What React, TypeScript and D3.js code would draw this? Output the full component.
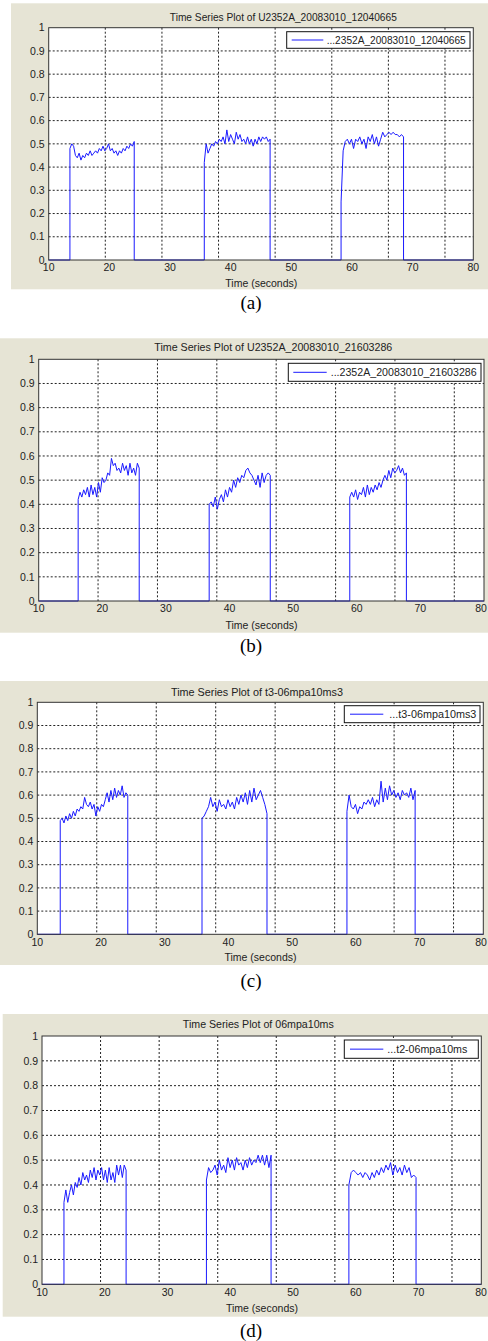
import React from 'react'
import * as d3 from 'd3'

// axis values
const xTickLabels = [10, 20, 30, 40, 50, 60, 70, 80]
const yTicks = [0, 0.1, 0.2, 0.3, 0.4, 0.5, 0.6, 0.7, 0.8, 0.9, 1]
const yTickLabels = ['0', '0.1', '0.2', '0.3', '0.4', '0.5', '0.6', '0.7', '0.8', '0.9', '1']
// the vertical grid does not sit on the labelled ticks in the source figure
const gridTimes = [19.33, 28.67, 38, 47.33, 56.67, 66, 75.33]

const titles = [
  'Time Series Plot of U2352A_20083010_12040665',
  'Time Series Plot of U2352A_20083010_21603286',
  'Time Series Plot of t3-06mpa10ms3',
  'Time Series Plot of 06mpa10ms'
]
const legendLabels = [
  '...2352A_20083010_12040665',
  '...2352A_20083010_21603286',
  '...t3-06mpa10ms3',
  '...t2-06mpa10ms'
]
const captions = ['(a)', '(b)', '(c)', '(d)']

// pulse start / end times (s) and sampled values
const pulseTimesA = [[13.5, 24.1], [35.65, 46.5], [58.2, 68.5]]
const pulseA1 = [0.48, 0.50, 0.49, 0.45, 0.44, 0.46, 0.43, 0.45, 0.44, 0.46, 0.45, 0.47, 0.45, 0.46, 0.47, 0.46, 0.48, 0.47, 0.49, 0.47, 0.48, 0.50, 0.47, 0.48, 0.46, 0.47, 0.45, 0.47, 0.46, 0.48, 0.47, 0.49, 0.48, 0.50, 0.49, 0.51]
const pulseA2 = [0.42, 0.50, 0.46, 0.48, 0.50, 0.49, 0.51, 0.50, 0.52, 0.51, 0.53, 0.50, 0.56, 0.51, 0.54, 0.52, 0.50, 0.55, 0.52, 0.54, 0.51, 0.52, 0.50, 0.53, 0.50, 0.52, 0.49, 0.52, 0.50, 0.53, 0.51, 0.53, 0.52, 0.53, 0.51, 0.52]
const pulseA3 = [0.25, 0.47, 0.51, 0.52, 0.50, 0.52, 0.48, 0.52, 0.51, 0.53, 0.50, 0.52, 0.48, 0.53, 0.51, 0.54, 0.50, 0.53, 0.49, 0.52, 0.55, 0.53, 0.54, 0.55, 0.54, 0.55, 0.54, 0.54, 0.53, 0.54, 0.53]

const pulseTimesB = [[16.2, 25.8], [36.8, 46.4], [58.9, 67.8]]
const pulseB1 = [0.42, 0.45, 0.43, 0.46, 0.44, 0.47, 0.43, 0.48, 0.44, 0.47, 0.43, 0.49, 0.45, 0.51, 0.49, 0.50, 0.53, 0.52, 0.59, 0.56, 0.57, 0.54, 0.55, 0.53, 0.57, 0.54, 0.56, 0.52, 0.57, 0.53, 0.55, 0.52, 0.57, 0.55]
const pulseB2 = [0.40, 0.41, 0.39, 0.43, 0.38, 0.42, 0.44, 0.41, 0.46, 0.43, 0.47, 0.45, 0.50, 0.47, 0.51, 0.49, 0.52, 0.51, 0.54, 0.55, 0.53, 0.52, 0.50, 0.48, 0.52, 0.47, 0.53, 0.49, 0.52, 0.53, 0.52]
const pulseB3 = [0.43, 0.45, 0.43, 0.46, 0.42, 0.45, 0.44, 0.47, 0.43, 0.48, 0.44, 0.47, 0.45, 0.48, 0.46, 0.49, 0.47, 0.50, 0.52, 0.50, 0.54, 0.51, 0.55, 0.53, 0.54, 0.56, 0.53, 0.55, 0.52, 0.53]

const pulseTimesC = [[13.6, 24.2], [35.85, 46.05], [58.6, 69.3]]
const pulseC1 = [0.49, 0.50, 0.48, 0.51, 0.49, 0.52, 0.50, 0.53, 0.51, 0.54, 0.53, 0.55, 0.54, 0.59, 0.56, 0.55, 0.57, 0.54, 0.56, 0.51, 0.55, 0.53, 0.56, 0.55, 0.58, 0.61, 0.57, 0.62, 0.58, 0.63, 0.59, 0.62, 0.60, 0.64, 0.59, 0.61, 0.60]
const pulseC2 = [0.50, 0.51, 0.53, 0.55, 0.59, 0.55, 0.57, 0.53, 0.58, 0.55, 0.56, 0.54, 0.58, 0.55, 0.57, 0.54, 0.59, 0.56, 0.60, 0.57, 0.61, 0.56, 0.62, 0.57, 0.63, 0.58, 0.60, 0.62, 0.59, 0.56, 0.52]
const pulseC3 = [0.53, 0.60, 0.55, 0.54, 0.56, 0.52, 0.55, 0.54, 0.57, 0.56, 0.58, 0.56, 0.59, 0.55, 0.58, 0.56, 0.66, 0.57, 0.63, 0.58, 0.64, 0.60, 0.62, 0.59, 0.61, 0.58, 0.62, 0.60, 0.61, 0.59, 0.63, 0.58, 0.62]

const pulseTimesD = [[13.5, 23.4], [36.2, 46.5], [58.9, 69.6]]
const pulseD1 = [0.33, 0.38, 0.33, 0.37, 0.40, 0.36, 0.41, 0.39, 0.43, 0.40, 0.45, 0.42, 0.44, 0.41, 0.46, 0.43, 0.47, 0.42, 0.46, 0.44, 0.47, 0.42, 0.46, 0.41, 0.47, 0.42, 0.45, 0.41, 0.48, 0.44, 0.48, 0.43, 0.48, 0.46]
const pulseD2 = [0.42, 0.47, 0.45, 0.46, 0.48, 0.44, 0.50, 0.46, 0.48, 0.45, 0.51, 0.47, 0.50, 0.46, 0.51, 0.48, 0.49, 0.46, 0.50, 0.47, 0.51, 0.48, 0.50, 0.49, 0.52, 0.49, 0.52, 0.48, 0.52, 0.47, 0.52]
const pulseD3 = [0.40, 0.45, 0.46, 0.45, 0.44, 0.45, 0.43, 0.45, 0.44, 0.42, 0.45, 0.43, 0.46, 0.44, 0.47, 0.45, 0.48, 0.46, 0.49, 0.44, 0.48, 0.45, 0.47, 0.44, 0.48, 0.45, 0.47, 0.43, 0.44, 0.43]

const pulseTimes = [pulseTimesA, pulseTimesB, pulseTimesC, pulseTimesD]
const pulseValues = [
  [pulseA1, pulseA2, pulseA3],
  [pulseB1, pulseB2, pulseB3],
  [pulseC1, pulseC2, pulseC3],
  [pulseD1, pulseD2, pulseD3]
]

// where each sub-figure sits on the page
const layout = [
  { bg: [11, 3.3, 488, 289.3], plot: [48.7, 27.7, 473.3, 260], title: [283.3, 17, 227], legend: [286.7, 31.7, 470, 48.3], legendLine: [291.7, 323.3], legendText: [326.7, 139], xlabel: [261.3, 283], caption: [251, 302] },
  { bg: [0, 338.3, 488, 632.7], plot: [38.7, 359.3, 484, 601], title: [273.3, 347.3, 238], legend: [288.3, 363.3, 481, 381.3], legendLine: [293.3, 326.7], legendText: [330.7, 146], xlabel: [261.5, 624.7], caption: [251, 645] },
  { bg: [0, 681, 488, 965], plot: [37.3, 702.3, 483.3, 934.3], title: [257, 691.7, 172], legend: [344.3, 705.7, 480, 722.7], legendLine: [350, 383.3], legendText: [389.3, 87], xlabel: [260.5, 957], caption: [251, 980] },
  { bg: [2.7, 1014, 488, 1316.7], plot: [42, 1036, 481.3, 1284.3], title: [258.3, 1024.3, 151], legend: [344.3, 1040, 478.3, 1058.3], legendLine: [350, 383.3], legendText: [387.3, 80], xlabel: [262, 1308.3], caption: [251, 1330] }
]

const uiFont = '"Liberation Sans", Arial, sans-serif'
const pageW = 488

function buildSeries (times: number[][], values: number[][]) {
  const pts: [number, number][] = [[10, 0]]
  times.forEach(([t0, t1], i) => {
    const vals = values[i]
    const at = d3.scaleLinear().domain([0, vals.length - 1]).range([t0, t1])
    pts.push([t0, 0])
    vals.forEach((v, j) => pts.push([at(j), v]))
    pts.push([t1, 0])
  })
  pts.push([80, 0])
  return pts
}

function Panel ({ idx }: { idx: number }) {
  const L = layout[idx]
  const [x0, y0, x1, y1] = L.plot
  const x = d3.scaleLinear().domain([10, 80]).range([x0, x1])
  const y = d3.scaleLinear().domain([0, 1]).range([y1, y0])
  const series = buildSeries(pulseTimes[idx], pulseValues[idx])
  const line = d3.line<[number, number]>().x(d => x(d[0])).y(d => y(d[1]))

  return (
    <g>
      <rect x={L.bg[0]} y={L.bg[1]} width={L.bg[2] - L.bg[0]} height={L.bg[3] - L.bg[1]} fill='#e6e4d5' />
      <rect x={x0} y={y0} width={x1 - x0} height={y1 - y0} fill='#fff' />
      {/* grid */}
      {yTicks.slice(1, -1).map(t => (
        <line key={'gy' + t} x1={x0} x2={x1} y1={y(t)} y2={y(t)} stroke='#222' strokeWidth={1} strokeDasharray='2,2' />
      ))}
      {gridTimes.map(t => (
        <line key={'gx' + t} x1={x(t)} x2={x(t)} y1={y0} y2={y1} stroke='#222' strokeWidth={1} strokeDasharray='2,2' />
      ))}
      {/* data */}
      <path d={line(series) || ''} fill='none' stroke='#1a1aff' strokeWidth={1} />
      {/* frame */}
      <rect x={x0} y={y0} width={x1 - x0} height={y1 - y0} fill='none' stroke='#333' strokeWidth={1} />
      {/* y ticks */}
      {yTicks.map((t, i) => (
        <text key={'ty' + t} x={x0 - 4} y={y(t)} dy='0.35em' textAnchor='end' fontFamily={uiFont} fontSize={10.5} fill='#222'>{yTickLabels[i]}</text>
      ))}
      {xTickLabels.map(t => (
        <text key={'tx' + t} x={Math.min(x(t), pageW - 7)} y={y1 + 7.6} dy='0.35em' textAnchor='middle' fontFamily={uiFont} fontSize={10.5} fill='#222'>{t}</text>
      ))}
      <text x={L.xlabel[0]} y={L.xlabel[1]} dy='0.35em' textAnchor='middle' fontFamily={uiFont} fontSize={11} fill='#222' textLength={72} lengthAdjust='spacingAndGlyphs'>Time (seconds)</text>
      <text x={L.title[0]} y={L.title[1]} dy='0.35em' textAnchor='middle' fontFamily={uiFont} fontSize={11} fill='#222' textLength={L.title[2]} lengthAdjust='spacingAndGlyphs'>{titles[idx]}</text>
      {/* legend */}
      <rect x={L.legend[0]} y={L.legend[1]} width={L.legend[2] - L.legend[0]} height={L.legend[3] - L.legend[1]} fill='#fff' stroke='#111' strokeWidth={1} />
      <line x1={L.legendLine[0]} x2={L.legendLine[1]} y1={(L.legend[1] + L.legend[3]) / 2} y2={(L.legend[1] + L.legend[3]) / 2} stroke='#1a1aff' strokeWidth={1} />
      <text x={L.legendText[0]} y={(L.legend[1] + L.legend[3]) / 2} dy='0.35em' fontFamily={uiFont} fontSize={11} fill='#222' textLength={L.legendText[1]} lengthAdjust='spacingAndGlyphs'>{legendLabels[idx]}</text>
      <text x={L.caption[0]} y={L.caption[1]} dy='0.35em' textAnchor='middle' fontFamily='"Liberation Serif", "Times New Roman", serif' fontSize={19} fill='#000'>{captions[idx]}</text>
    </g>
  )
}

export default function App () {
  return (
    <svg width={pageW} height={1341} style={{ position: 'absolute', left: 0, top: 0, background: '#fff' }}>
      {captions.map((c, i) => <Panel key={c} idx={i} />)}
    </svg>
  )
}
